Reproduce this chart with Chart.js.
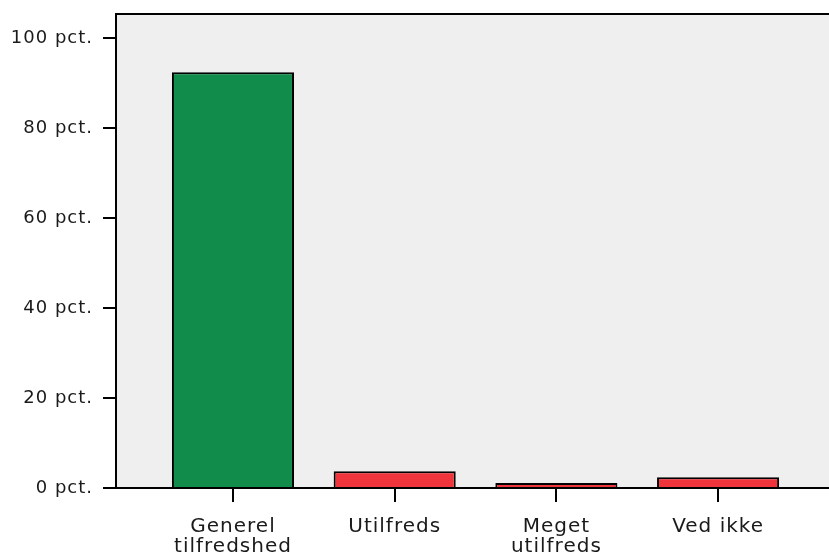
<!DOCTYPE html>
<html>
<head>
<meta charset="utf-8">
<script src="https://cdn.jsdelivr.net/npm/chart.js@4.4.1/dist/chart.umd.min.js"></script>
<style>
  html, body { margin: 0; padding: 0; background: #fff; }
</style>
</head>
<body>
<canvas id="chart" width="829" height="556"></canvas>
<script>
const categories = [['Generel', 'tilfredshed'], 'Utilfreds', ['Meget', 'utilfreds'], 'Ved ikke'];
const positions = [1, 2, 3, 4];
const values = [92.4, 3.7, 1.1, 2.4];
const barColors = ['#118c4a', '#f0343c', '#f0343c', '#f0343c'];
const yTickValues = [0, 20, 40, 60, 80, 100];

// grey plot background + top frame line
const frame = {
  id: 'frame',
  beforeLayout(chart) {
    chart.ctx.letterSpacing = '1px';
  },
  beforeDraw(chart) {
    const { ctx, chartArea: a } = chart;
    ctx.save();
    ctx.fillStyle = '#efefef';
    ctx.fillRect(a.left, a.top, a.right - a.left, a.bottom - a.top);
    ctx.strokeStyle = '#000';
    ctx.lineWidth = 2;
    ctx.beginPath();
    ctx.moveTo(a.left - 1, a.top);
    ctx.lineTo(a.right, a.top);
    ctx.stroke();
    ctx.restore();
    ctx.letterSpacing = '1px';
  }
};

new Chart(document.getElementById('chart'), {
  type: 'bar',
  data: {
    datasets: [{
      data: positions.map((x, i) => ({ x: x, y: values[i] })),
      backgroundColor: barColors,
      borderColor: '#000',
      borderWidth: 2,
      categoryPercentage: 1,
      barPercentage: 0.755
    }]
  },
  options: {
    responsive: false,
    animation: false,
    layout: { padding: { top: 14, right: 0, left: 0, bottom: 0 } },
    plugins: { legend: { display: false }, tooltip: { enabled: false } },
    scales: {
      x: {
        type: 'linear',
        offset: false,
        min: 0.2765,
        max: 4.686,
        afterBuildTicks: s => { s.ticks = positions.map(v => ({ value: v })); },
        afterFit: s => { s.height = 68; s.paddingLeft = 0; s.paddingRight = 0; },
        ticks: {
          autoSkip: false,
          maxRotation: 0,
          padding: 15,
          color: '#1a1a1a',
          font: { family: 'DejaVu Sans', size: 20, lineHeight: 1.0 },
          callback: v => categories[positions.indexOf(v)]
        },
        grid: { offset: false, drawOnChartArea: false, tickLength: 14, color: '#000', lineWidth: 2 },
        border: { color: '#000', width: 2 }
      },
      y: {
        min: 0,
        max: 105.33,
        afterBuildTicks: s => { s.ticks = yTickValues.map(v => ({ value: v })); },
        afterFit: s => { s.width = 116; s.paddingTop = 0; s.paddingBottom = 0; },
        ticks: {
          padding: 10,
          color: '#1a1a1a',
          font: { family: 'DejaVu Sans', size: 18 },
          callback: v => v + ' pct.'
        },
        grid: { drawOnChartArea: false, tickLength: 13, color: '#000', lineWidth: 2 },
        border: { color: '#000', width: 2 }
      }
    }
  },
  plugins: [frame]
});
</script>
</body>
</html>
